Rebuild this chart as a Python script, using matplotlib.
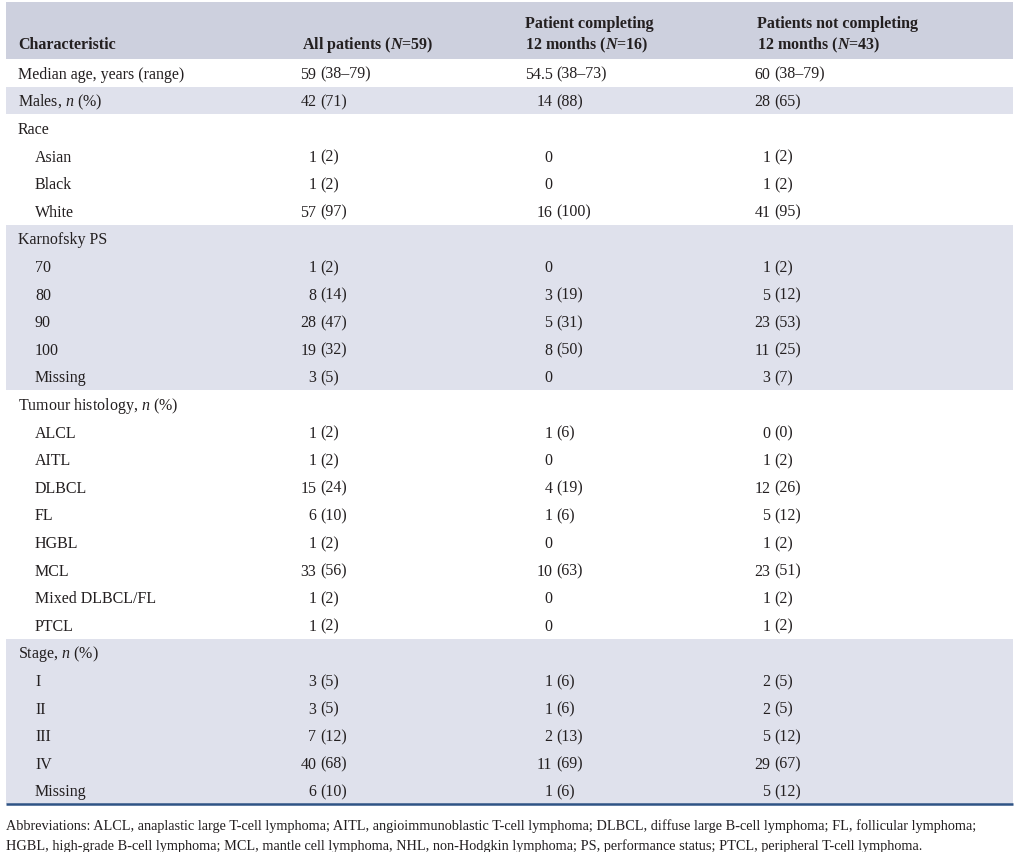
import matplotlib.pyplot as plt
from matplotlib.patches import Rectangle

plt.rcParams['font.family'] = ['Liberation Serif', 'DejaVu Serif']
plt.rcParams['mathtext.fontset'] = 'custom'
plt.rcParams['mathtext.rm'] = 'Liberation Serif'
plt.rcParams['mathtext.it'] = 'Liberation Serif:italic'
plt.rcParams['mathtext.bf'] = 'Liberation Serif:bold'
plt.rcParams['mathtext.bfit'] = 'Liberation Serif:italic:bold'

# table content
headers = ['Characteristic',
           'All patients ($\\mathbfit{N}$=59)',
           'Patient completing\n12 months ($\\mathbfit{N}$=16)',
           'Patients not completing\n12 months ($\\mathbfit{N}$=43)']

row_labels = ['Median age, years (range)', 'Males, $\\it{n}$ (%)', 'Race',
              'Asian', 'Black', 'White',
              'Karnofsky PS', '70', '80', '90', '100', 'Missing',
              'Tumour histology, $\\it{n}$ (%)',
              'ALCL', 'AITL', 'DLBCL', 'FL', 'HGBL', 'MCL', 'Mixed DLBCL/FL', 'PTCL',
              'Stage, $\\it{n}$ (%)', 'I', 'II', 'III', 'IV', 'Missing']
sub_rows = [3, 4, 5, 7, 8, 9, 10, 11, 13, 14, 15, 16, 17, 18, 19, 20, 22, 23, 24, 25, 26]

all_patients = ['59 (38–79)', '42 (71)', '', '1 (2)', '1 (2)', '57 (97)',
                '', '1 (2)', '8 (14)', '28 (47)', '19 (32)', '3 (5)',
                '', '1 (2)', '1 (2)', '15 (24)', '6 (10)', '1 (2)', '33 (56)', '1 (2)', '1 (2)',
                '', '3 (5)', '3 (5)', '7 (12)', '40 (68)', '6 (10)']
completing = ['54.5 (38–73)', '14 (88)', '', '0', '0', '16 (100)',
              '', '0', '3 (19)', '5 (31)', '8 (50)', '0',
              '', '1 (6)', '0', '4 (19)', '1 (6)', '0', '10 (63)', '0', '0',
              '', '1 (6)', '1 (6)', '2 (13)', '11 (69)', '1 (6)']
not_completing = ['60 (38–79)', '28 (65)', '', '1 (2)', '1 (2)', '41 (95)',
                  '', '1 (2)', '5 (12)', '23 (53)', '11 (25)', '3 (7)',
                  '', '0 (0)', '1 (2)', '12 (26)', '5 (12)', '1 (2)', '23 (51)', '1 (2)', '1 (2)',
                  '', '2 (5)', '2 (5)', '5 (12)', '29 (67)', '5 (12)']

shaded_blocks = [(1, 1), (6, 11), (21, 26)]

footnote = ['Abbreviations: ALCL, anaplastic large T-cell lymphoma; AITL, angioimmunoblastic T-cell lymphoma; '
            'DLBCL, diffuse large B-cell lymphoma; FL, follicular lymphoma;',
            'HGBL, high-grade B-cell lymphoma; MCL, mantle cell lymphoma, NHL, non-Hodgkin lymphoma; '
            'PS, performance status; PTCL, peripheral T-cell lymphoma.']

W, H = 1019, 853
fig = plt.figure(figsize=(W / 100, H / 100), dpi=100)
ax = fig.add_axes([0, 0, 1, 1])
ax.set_xlim(0, W)
ax.set_ylim(H, 0)
ax.axis('off')

txt = '#231f20'
fs = 11.5
left, right = 6, 1013
head_top, head_bot = 3, 60
row_h = 27.6
col_head_x = [18, 302, 525, 757]
paren_x = [320, 556, 774]

ax.add_patch(Rectangle((left, head_top), right - left, head_bot - head_top,
                       color='#cdd0de', lw=0))
for a, b in shaded_blocks:
    ax.add_patch(Rectangle((left, head_bot + a * row_h), right - left, (b - a + 1) * row_h,
                           color='#dfe1ec', lw=0))

# header
for x, h in zip(col_head_x, headers):
    ax.text(x, 49, h, fontsize=fs, fontweight='bold', color=txt,
            ha='left', va='baseline', linespacing=1.25)

# body
for i, lab in enumerate(row_labels):
    y = head_bot + (i + 0.5) * row_h + 5
    x = 35 if i in sub_rows else 18
    ax.text(x, y, lab, fontsize=fs, color=txt, ha='left', va='baseline')
    for px, col in zip(paren_x, [all_patients, completing, not_completing]):
        val = col[i]
        if not val:
            continue
        num, _, rest = val.partition(' ')
        ax.text(px - 3.5, y, num, fontsize=fs, color=txt, ha='right', va='baseline')
        if rest:
            ax.text(px, y, rest, fontsize=fs, color=txt, ha='left', va='baseline')

bottom = head_bot + len(row_labels) * row_h
ax.plot([left, right], [bottom, bottom], color='#2e5385', lw=1.8, solid_capstyle='butt')

for k, line in enumerate(footnote):
    ax.text(left, 830 + 20 * k, line, fontsize=10.3, color=txt, ha='left', va='baseline')

fig.savefig('out.png', dpi=100)
